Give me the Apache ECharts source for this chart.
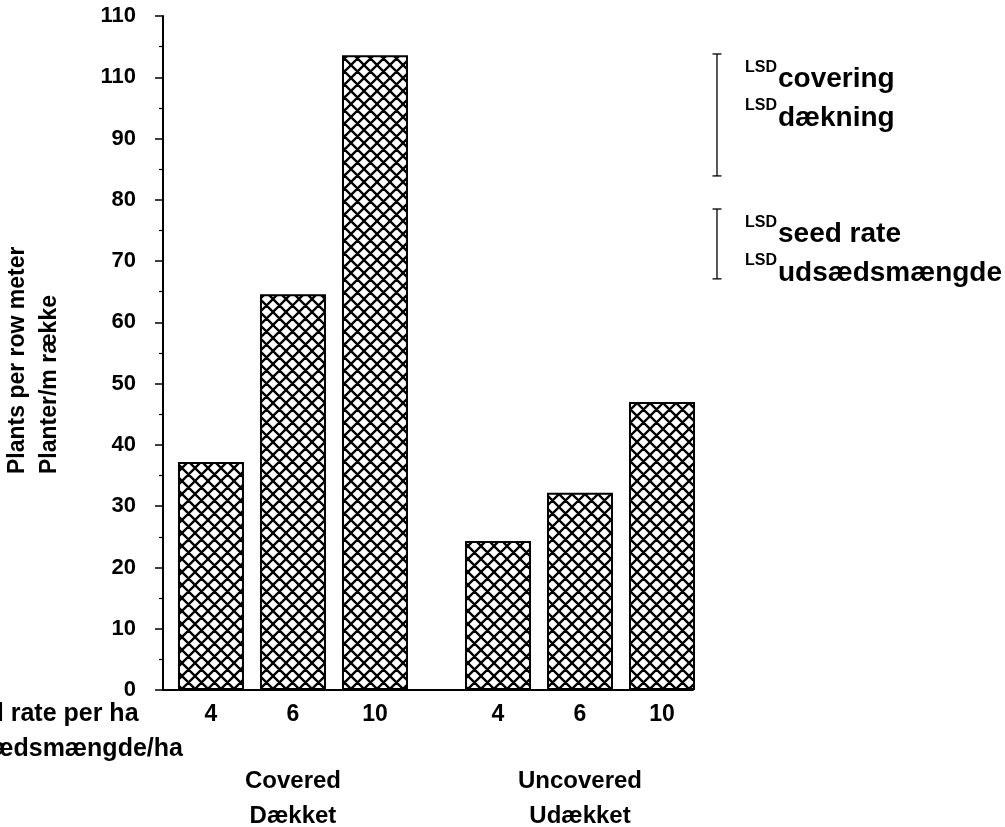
<!DOCTYPE html>
<html>
<head>
<meta charset="utf-8">
<script src="https://cdn.jsdelivr.net/npm/echarts@6/dist/echarts.min.js"></script>
<style>
html,body{margin:0;padding:0;background:#fff;}
#c{width:1005px;height:827px;}
</style>
</head>
<body>
<div id="c"></div>
<script>
// ---------- data ----------
const seedRates = ['4', '6', '10'];
const groupNames = ['Covered\nDækket', 'Uncovered\nUdækket'];
const coveredValues = [37.2, 64.6, 103.6];
const uncoveredValues = [24.3, 32.2, 47.0];
const yTickLabels = ['0', '10', '20', '30', '40', '50', '60', '70', '80', '90', '110', '110'];
const lsdNames = [['covering', 'dækning'], ['seed rate', 'udsædsmængde']];
const lsdValues = [19.9, 11.4];
const yTitle = ['Plants per row meter', 'Planter/m række'];
const xTitle = ['Seed rate per ha', 'Udsædsmængde/ha'];

// ---------- helpers ----------
const FONT = "'Liberation Sans', Arial, Helvetica, sans-serif";
const groupValues = [coveredValues, uncoveredValues];
// layout: bar slot index inside the chart (half a slot gap between groups)
const slotPos = (g, i) => g * (seedRates.length + 0.5) + i;

function hatch() {
  const s = 13;
  const c = document.createElement('canvas');
  c.width = s; c.height = s;
  const g = c.getContext('2d');
  g.fillStyle = '#fff'; g.fillRect(0, 0, s, s);
  g.strokeStyle = '#000'; g.lineWidth = 2.3;
  g.beginPath();
  for (let k = -1; k <= 1; k++) {
    g.moveTo(k * s, 0); g.lineTo(k * s + s, s);
    g.moveTo(k * s + s, 0); g.lineTo(k * s, s);
  }
  g.stroke();
  return c;
}
const measure = (t, size) => {
  const ctx = document.createElement('canvas').getContext('2d');
  ctx.font = 'bold ' + size + 'px ' + FONT;
  return ctx.measureText(t).width;
};

const barData = [];
groupValues.forEach((vals, g) => vals.forEach((v, i) => barData.push([slotPos(g, i), v])));

// LSD bars are anchored (in axis units) at the top of the tallest covered bar and below
const lsdTop = [Math.max(...coveredValues) + 0.2, 78.5];
const lsdData = lsdValues.map((v, i) => [1, lsdTop[i], lsdTop[i] - v]);

const chart = echarts.init(document.getElementById('c'), null, { renderer: 'canvas' });
const lbl = { color: '#000', fontFamily: FONT, fontWeight: 'bold' };

chart.setOption({
  animation: false,
  backgroundColor: '#fff',
  grid: [
    { left: 163, right: 312, top: 16, bottom: 137 },
    { left: 700, width: 34, top: 16, bottom: 137 }
  ],
  xAxis: [
    {
      type: 'value', min: -0.585, max: 5.878,
      axisLine: { show: true, onZero: true, lineStyle: { color: '#000', width: 2 } },
      axisTick: { show: false }, axisLabel: { show: false }, splitLine: { show: false }
    },
    { type: 'value', gridIndex: 1, min: 0, max: 2, show: false }
  ],
  yAxis: [
    {
      type: 'value', min: 0, max: 110, interval: 10,
      axisLine: { show: true, onZero: false, lineStyle: { color: '#000', width: 2 } },
      axisTick: { show: true, length: 8, lineStyle: { color: '#000', width: 1.5 } },
      minorTick: { show: true, splitNumber: 2, length: 4, lineStyle: { color: '#000', width: 1.2 } },
      splitLine: { show: false },
      axisLabel: Object.assign({ fontSize: 22, margin: 27, formatter: v => yTickLabels[Math.round(v / 10)] }, lbl)
    },
    { type: 'value', gridIndex: 1, min: 0, max: 110, show: false }
  ],
  series: [
    {
      type: 'bar', xAxisIndex: 0, yAxisIndex: 0, data: barData, barWidth: 66,
      itemStyle: { color: { image: hatch(), repeat: 'repeat' }, borderColor: '#000', borderWidth: 2 }
    },
    {
      type: 'custom', xAxisIndex: 1, yAxisIndex: 1, data: lsdData,
      renderItem: (params, api) => {
        const x = api.value(0);
        const a = api.coord([x, api.value(1)]);
        const b = api.coord([x, api.value(2)]);
        const w = 4.5;
        const st = { stroke: '#000', lineWidth: 1.3 };
        return {
          type: 'group', children: [
            { type: 'line', shape: { x1: a[0], y1: a[1], x2: b[0], y2: b[1] }, style: st },
            { type: 'line', shape: { x1: a[0] - w, y1: a[1], x2: a[0] + w, y2: a[1] }, style: st },
            { type: 'line', shape: { x1: b[0] - w, y1: b[1], x2: b[0] + w, y2: b[1] }, style: st }
          ]
        };
      }
    }
  ]
});

// ---------- text annotations placed through the chart's own scales ----------
function T(x, y, text, size, align, valign, extra) {
  return Object.assign({
    type: 'text', x: x, y: y, silent: true,
    style: {
      text: text, fill: '#000', font: 'bold ' + size + 'px ' + FONT,
      align: align, verticalAlign: valign, textAlign: align, textVerticalAlign: valign
    }
  }, extra || {});
}
const g = [];
const y0 = chart.convertToPixel({ gridIndex: 0 }, [0, 0])[1];
// seed-rate tick labels and group labels
groupValues.forEach((vals, gi) => {
  seedRates.forEach((r, i) => {
    const px = chart.convertToPixel({ gridIndex: 0 }, [slotPos(gi, i), 0])[0];
    g.push(T(px, y0 + 25, r, 23, 'center', 'middle'));
  });
  const mid = chart.convertToPixel({ gridIndex: 0 }, [slotPos(gi, 1), 0])[0];
  const t = T(mid, y0 + 109, groupNames[gi], 24, 'center', 'middle');
  t.style.lineHeight = 35;
  g.push(t);
});
// x title (partially outside the picture at the left, as in the source)
const xt = T(-56, y0 + 42, xTitle.join('\n'), 25, 'left', 'middle');
xt.style.lineHeight = 35;
g.push(xt);
// y title, rotated
const yMidBottom = 474;
g.push(T(18, yMidBottom, yTitle[0], 23, 'left', 'middle', { rotation: Math.PI / 2 }));
g.push(T(50, yMidBottom, yTitle[1], 23, 'left', 'middle', { rotation: Math.PI / 2 }));
// LSD labels next to the LSD bars
lsdValues.forEach((v, i) => {
  const p = chart.convertToPixel({ gridIndex: 1 }, [1, lsdTop[i]]);
  const x = p[0] + 28;
  const lsdW = measure('LSD', 16);
  [[19, 34], [57, 72.5]].forEach((off, k) => {
    g.push(T(x, p[1] + off[0] - 0.31 * 16, 'LSD', 16, 'left', 'middle'));
    g.push(T(x + lsdW + 1, p[1] + off[1] - 0.31 * 28, lsdNames[i][k], 28, 'left', 'middle'));
  });
});
chart.setOption({ graphic: { elements: g } });
</script>
</body>
</html>
